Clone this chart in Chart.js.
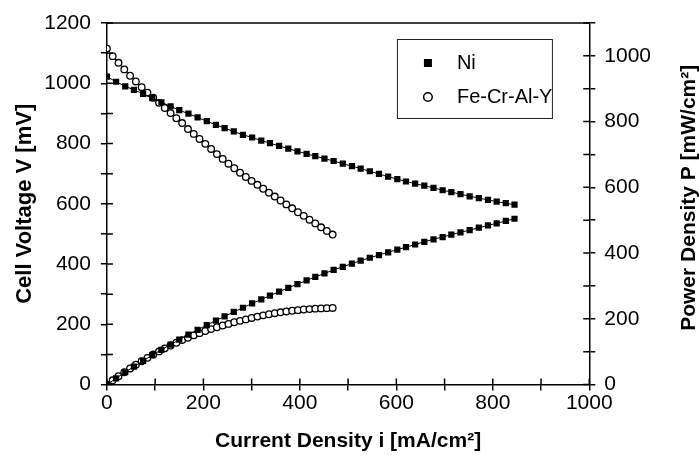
<!DOCTYPE html>
<html><head><meta charset="utf-8">
<script src="https://cdn.jsdelivr.net/npm/chart.js@4/dist/chart.umd.min.js"></script>
<style>html,body{margin:0;padding:0;background:#fff;overflow:hidden}canvas{display:block}</style>
</head><body>
<canvas id="c" width="699" height="460"></canvas>
<script>
// ---- data ----
const niCurrent = [0,19,38,56,75,94,113,132,150,169,188,207,226,244,263,282,301,320,338,357,376,395,414,432,451,470,489,508,526,545,564,583,602,620,639,658,677,696,714,733,752,771,790,808,827,845];
const niVoltage = [1022,1005,990,978,965,951,937,923,911,899,887,874,862,851,840,829,820,810,801,792,783,774,766,758,750,742,733,725,717,708,699,690,682,674,667,660,653,645,639,632,625,619,613,607,602,597];
const niPower = [0,19.1,37.6,54.8,72.4,89.4,105.9,121.8,136.7,151.9,166.8,180.9,194.8,207.6,220.9,233.8,246.8,259.2,270.7,282.7,294.4,305.7,317.1,327.5,338.3,348.7,358.4,368.3,377.1,385.9,394.2,402.3,410.6,417.9,426.2,434.3,442.1,448.9,456.2,463.3,470.0,477.2,484.3,490.5,497.9,504.5];
const feCurrent = [0,12,24,36,48,60,72,84,96,108,120,132,144,156,168,180,192,204,216,228,240,252,264,276,288,300,312,324,336,348,360,372,384,396,408,420,432,444,456,468];
const feVoltage = [1115,1090,1068,1046,1025,1006,987,969,952,935,918,901,884,868,848,832,815,799,782,765,749,733,718,703,689,676,663,650,637,624,611,598,585,572,560,547,535,522,510,498];
const fePower = [0,13.1,25.6,37.7,49.2,60.4,71.1,81.4,91.4,101.0,110.2,118.9,127.3,135.4,142.5,149.8,156.5,163.0,168.9,174.4,179.8,184.7,189.6,194.0,198.4,202.8,206.9,210.6,214.0,217.2,220.0,222.5,224.6,226.5,228.5,229.7,231.1,231.8,232.6,233.1];
const seriesNames = ['Ni', 'Fe-Cr-Al-Y'];
const xTickLabels = [0, 200, 400, 600, 800, 1000];
const yTickLabels = [0, 200, 400, 600, 800, 1000, 1200];
const y2TickLabels = [0, 200, 400, 600, 800, 1000];
const xTitle = 'Current Density i [mA/cm²]';
const yTitle = 'Cell Voltage V [mV]';
const y2Title = 'Power Density P [mW/cm²]';

const FONT = '"Liberation Sans", Arial, sans-serif';
const pts = (xs, ys) => xs.map((x, i) => ({x: x, y: ys[i]}));

const niStyle = {pointStyle: 'rect', pointRadius: 4.4, backgroundColor: '#000', pointBorderWidth: 0, borderColor: '#000', borderWidth: 1, showLine: true};
const feStyle = {pointStyle: 'circle', pointRadius: 3.3, backgroundColor: '#fff', pointBorderColor: '#000', pointBorderWidth: 1.3, borderColor: '#000', borderWidth: 1, showLine: true};

const extras = {
  id: 'extras',
  afterDraw(chart) {
    const ctx = chart.ctx, a = chart.chartArea;
    const sx = chart.scales.x, sy = chart.scales.y, sy2 = chart.scales.y2;
    ctx.save();
    ctx.strokeStyle = '#000';
    ctx.lineWidth = 1.5;
    ctx.beginPath(); ctx.moveTo(a.left - 0.75, a.top); ctx.lineTo(a.right + 0.75, a.top); ctx.stroke();
    // inner half of crossing tick marks
    const L = 6;
    ctx.beginPath();
    sx.ticks.forEach(t => { const p = sx.getPixelForValue(t.value); ctx.moveTo(p, a.bottom); ctx.lineTo(p, a.bottom - L); });
    sy.ticks.forEach(t => { const p = sy.getPixelForValue(t.value); ctx.moveTo(a.left, p); ctx.lineTo(a.left + L, p); });
    sy2.ticks.forEach(t => { const p = sy2.getPixelForValue(t.value); ctx.moveTo(a.right, p); ctx.lineTo(a.right - L, p); });
    ctx.stroke();
    // right axis title (reads bottom to top)
    ctx.save();
    ctx.translate(689, (a.top + a.bottom) / 2 - 6);
    ctx.rotate(-Math.PI / 2);
    ctx.fillStyle = '#000';
    ctx.font = 'bold 21px ' + FONT;
    ctx.textAlign = 'center';
    ctx.textBaseline = 'middle';
    ctx.fillText(y2Title, 0, 0);
    ctx.restore();
    // legend box
    const bx = a.left + 290, by = a.top + 16;
    ctx.lineWidth = 1;
    ctx.strokeStyle = '#222';
    ctx.strokeRect(bx + 0.5, by + 0.5, 155, 79);
    ctx.fillStyle = '#000';
    ctx.fillRect(bx + 27, by + 20, 8, 8);
    ctx.beginPath(); ctx.arc(bx + 31, by + 58, 4.3, 0, Math.PI * 2);
    ctx.fillStyle = '#fff'; ctx.fill();
    ctx.lineWidth = 1.5; ctx.strokeStyle = '#000'; ctx.stroke();
    ctx.fillStyle = '#000';
    ctx.font = '20px ' + FONT;
    ctx.textAlign = 'left';
    ctx.textBaseline = 'middle';
    ctx.fillText(chart.data.datasets[0].label, bx + 60, by + 24);
    ctx.fillText(chart.data.datasets[2].label, bx + 60, by + 58);
    ctx.restore();
  }
};

new Chart(document.getElementById('c'), {
  type: 'scatter',
  data: {
    datasets: [
      Object.assign({label: seriesNames[0], data: pts(niCurrent, niVoltage), yAxisID: 'y'}, niStyle),
      Object.assign({label: seriesNames[0] + ' P', data: pts(niCurrent, niPower), yAxisID: 'y2'}, niStyle),
      Object.assign({label: seriesNames[1], data: pts(feCurrent, feVoltage), yAxisID: 'y'}, feStyle),
      Object.assign({label: seriesNames[1] + ' P', data: pts(feCurrent, fePower), yAxisID: 'y2'}, feStyle)
    ]
  },
  options: {
    responsive: false,
    animation: false,
    devicePixelRatio: 1,
    layout: {padding: {left: 4, top: 23, right: 39, bottom: 2}},
    plugins: {legend: {display: false}, tooltip: {enabled: false}},
    scales: {
      x: {
        type: 'linear', position: 'bottom', min: 0, max: 1000,
        ticks: {stepSize: 100, autoSkip: false, maxRotation: 0, padding: 0, color: '#000', font: {family: FONT, size: 21},
          callback: v => xTickLabels.includes(v) ? String(v) : ''},
        grid: {drawOnChartArea: false, drawTicks: true, tickLength: 6, color: '#000', lineWidth: 1.5},
        border: {display: true, color: '#000', width: 1.5},
        title: {display: true, text: xTitle, color: '#000', font: {family: FONT, size: 21, weight: 'bold'}, padding: {top: 13, bottom: 4}}
      },
      y: {
        type: 'linear', position: 'left', min: 0, max: 1200,
        ticks: {stepSize: 100, autoSkip: false, padding: 10, color: '#000', font: {family: FONT, size: 21},
          callback: v => yTickLabels.includes(v) ? String(v) : ''},
        grid: {drawOnChartArea: false, drawTicks: true, tickLength: 6, color: '#000', lineWidth: 1.5},
        border: {display: true, color: '#000', width: 1.5},
        title: {display: true, text: yTitle, color: '#000', font: {family: FONT, size: 22, weight: 'bold'}, padding: {top: 7.8, bottom: -4}}
      },
      y2: {
        type: 'linear', position: 'right', min: 0, max: 1100,
        ticks: {stepSize: 100, autoSkip: false, padding: 9, color: '#000', font: {family: FONT, size: 21},
          callback: v => y2TickLabels.includes(v) ? String(v) : ''},
        grid: {drawOnChartArea: false, drawTicks: true, tickLength: 6, color: '#000', lineWidth: 1.5},
        border: {display: true, color: '#000', width: 1.5}
      }
    }
  },
  plugins: [extras]
});
</script>
</body></html>
